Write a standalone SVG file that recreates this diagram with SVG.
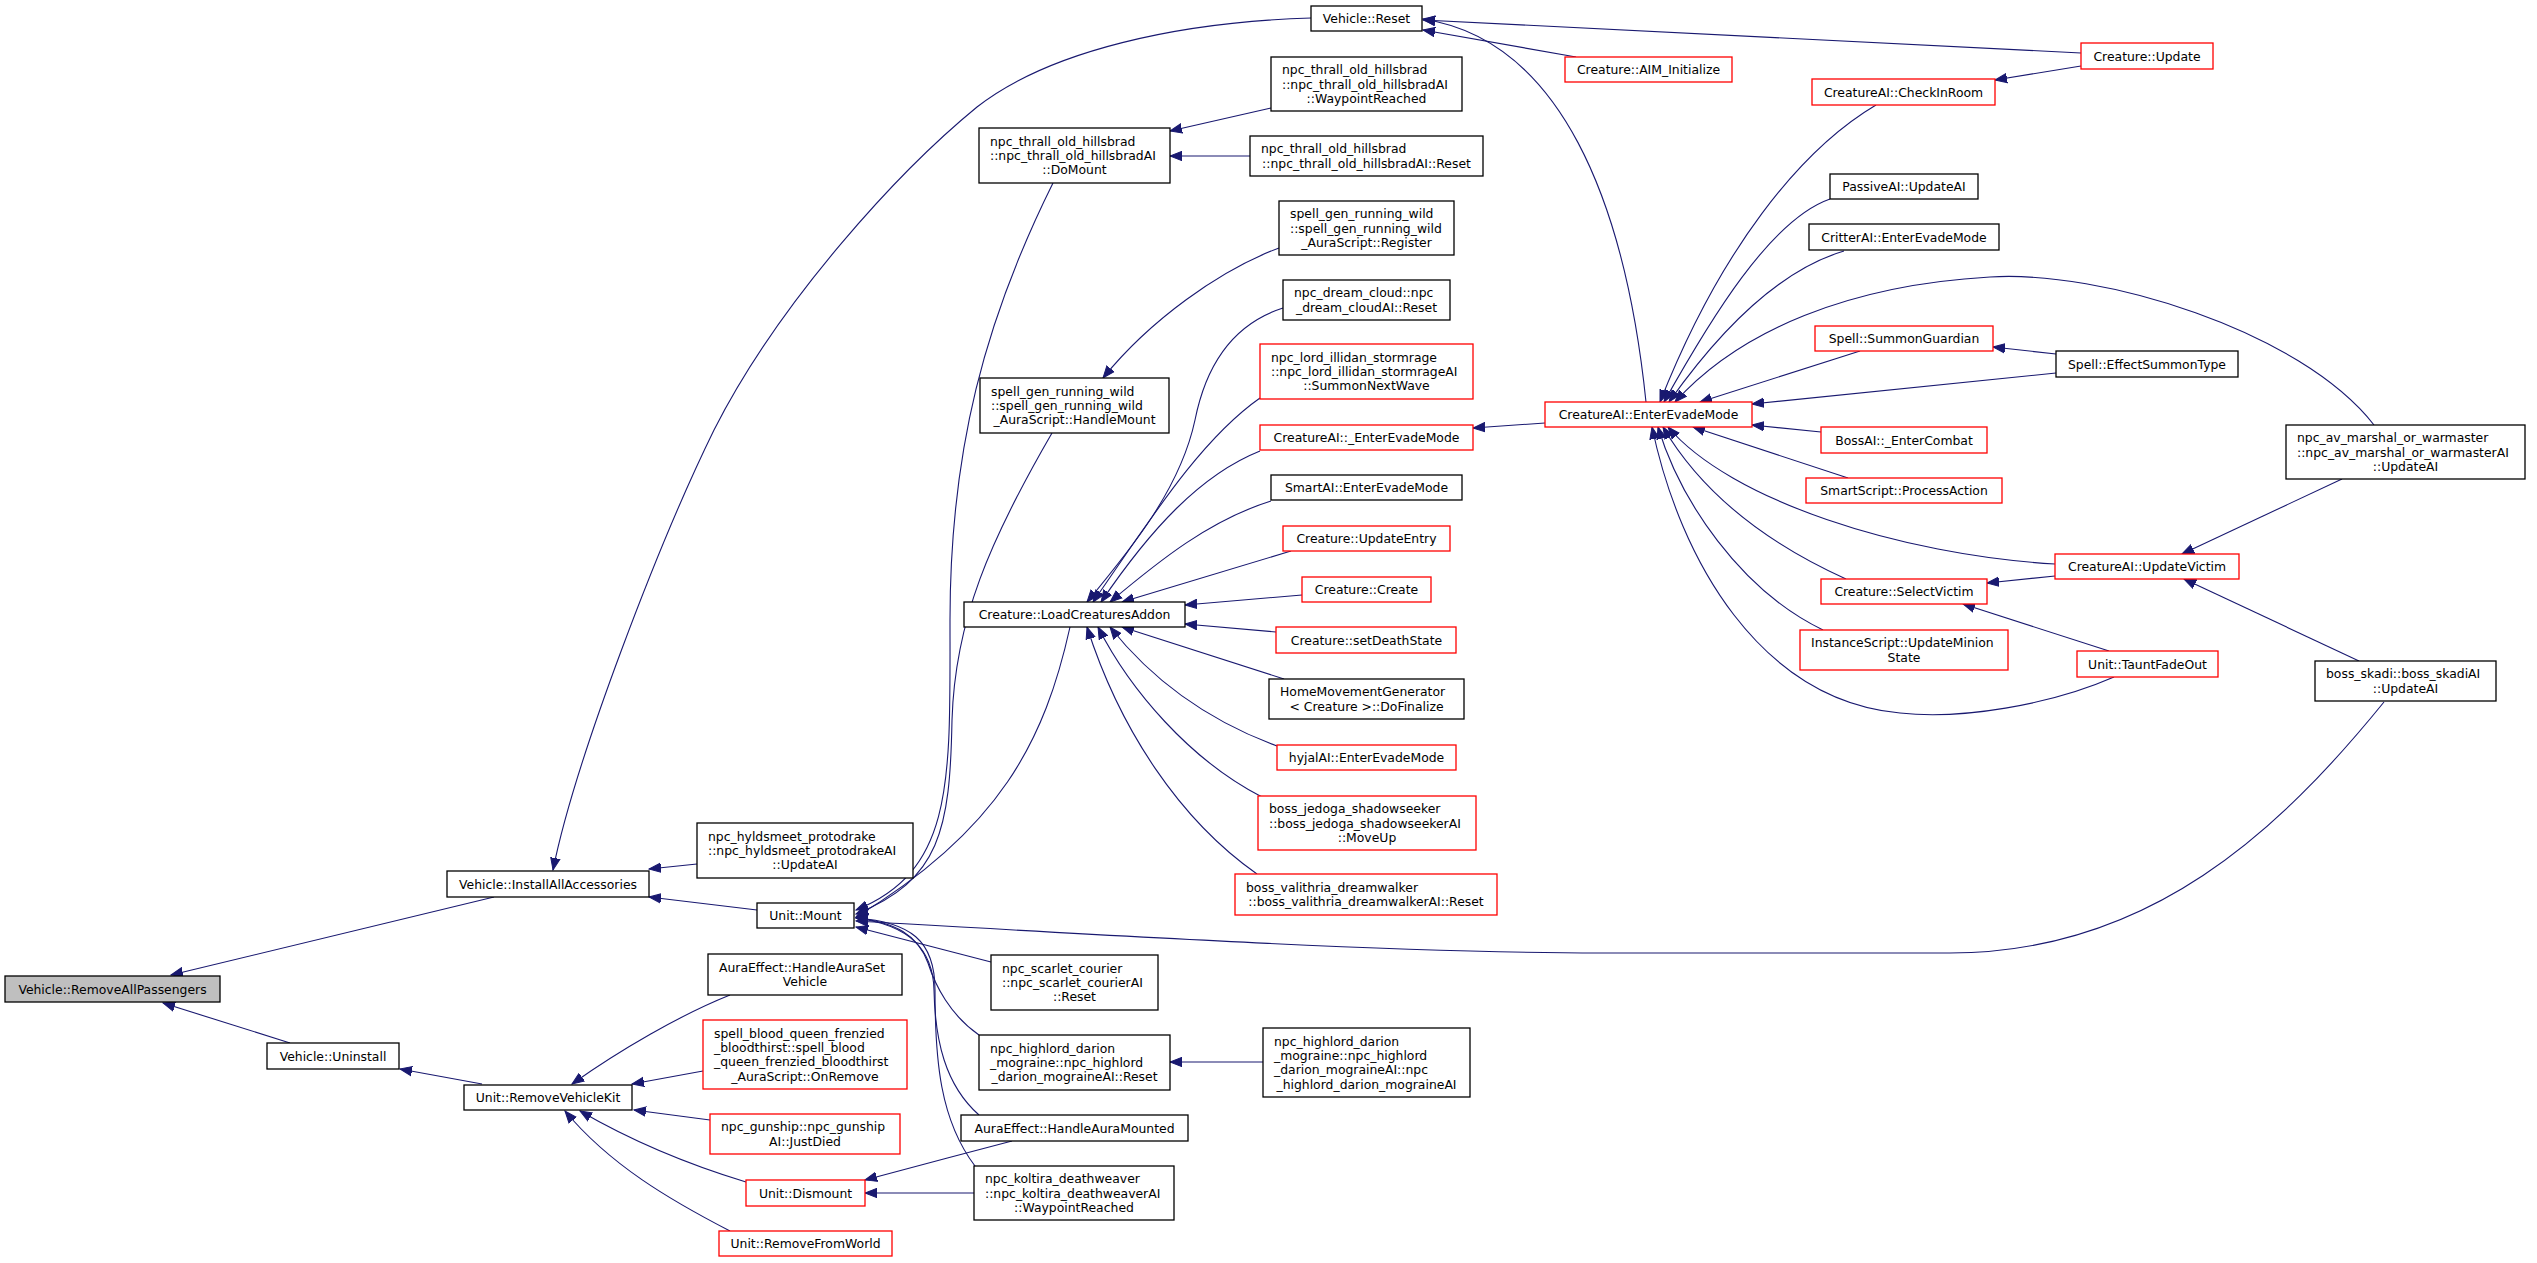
<svg xmlns="http://www.w3.org/2000/svg" width="2537" height="1263" viewBox="0 0 2537 1263">
<style>
.n rect{fill:#fff;stroke:#000;stroke-width:1.3}
.r rect{stroke:#ff0000}
.g rect{fill:#bfbfbf}
text{font-family:"DejaVu Sans",sans-serif;font-size:12.4px;fill:#000}
.c{text-anchor:middle}
.e path{fill:none;stroke:#191970;stroke-width:1.1;marker-end:url(#a)}
</style>
<defs>
<marker id="a" markerUnits="userSpaceOnUse" markerWidth="13" markerHeight="11" refX="12" refY="5.5" orient="auto" viewBox="0 0 13 11">
<path d="M0,0.8 L12,5.5 L0,10.2 z" fill="#191970" stroke="#191970" stroke-width="1"/>
</marker>
</defs>
<rect width="2537" height="1263" fill="#fff"/>
<g class="e" id="edges">
<path d="M494,897 L171,975"/>
<path d="M290,1043 L163,1003"/>
<path d="M1311,18 C1180,22 1050,50 977,107 C900,170 780,300 714,430 C660,540 575,760 553,870"/>
<path d="M697,864 L649,869"/>
<path d="M757,910 L649,897"/>
<path d="M482,1084 L400,1069"/>
<path d="M730,995 C680,1015 620,1050 572,1084"/>
<path d="M703,1071 L632,1084"/>
<path d="M710,1120 L634,1110"/>
<path d="M746,1182 C690,1165 630,1140 580,1111"/>
<path d="M730,1231 C670,1200 610,1165 565,1111"/>
<path d="M1646,402 C1625,200 1560,40 1423,19"/>
<path d="M2081,53 L1423,20"/>
<path d="M1576,57 L1423,30"/>
<path d="M1053,183 C985,320 950,450 950,620 C950,780 955,870 856,910"/>
<path d="M1052,433 C990,540 955,620 952,720 C950,830 940,880 856,914"/>
<path d="M1070,627 C1045,740 1000,830 856,917"/>
<path d="M2384,702 C2280,830 2150,953 1950,953 L1600,953 C1400,953 1100,935 856,921"/>
<path d="M991,962 L856,927"/>
<path d="M979,1035 C950,1015 935,985 928,963 C918,935 895,922 856,918"/>
<path d="M979,1115 C945,1085 935,1040 934,990 C933,950 910,925 856,918"/>
<path d="M975,1166 C940,1120 935,1060 935,990 C935,940 910,922 856,918"/>
<path d="M1271,108 L1170,131"/>
<path d="M1250,156 L1170,156"/>
<path d="M1279,248 C1220,270 1150,320 1103,378"/>
<path d="M1283,308 C1230,325 1205,370 1195,420 C1180,490 1130,550 1087,602"/>
<path d="M1260,398 C1200,440 1150,520 1093,602"/>
<path d="M1260,451 C1200,475 1150,530 1101,602"/>
<path d="M1271,501 C1210,520 1160,560 1110,602"/>
<path d="M1291,551 L1122,602"/>
<path d="M1302,595 L1185,605"/>
<path d="M1276,632 L1185,624"/>
<path d="M1284,679 L1122,627"/>
<path d="M1277,746 C1220,725 1160,690 1110,627"/>
<path d="M1262,797 C1190,760 1130,690 1098,627"/>
<path d="M1257,874 C1180,820 1120,730 1087,627"/>
<path d="M1545,423 L1473,428"/>
<path d="M1876,105 C1800,150 1720,250 1660,402"/>
<path d="M1830,199 C1770,220 1710,320 1664,402"/>
<path d="M1844,251 C1780,270 1720,330 1669,402"/>
<path d="M2374,425 C2300,330 2100,270 1990,277 C1850,285 1740,330 1675,402"/>
<path d="M1860,351 L1700,402"/>
<path d="M2056,373 L1752,404"/>
<path d="M1821,432 L1752,425"/>
<path d="M1848,478 L1693,427"/>
<path d="M2055,564 C1900,555 1730,500 1668,427"/>
<path d="M1846,579 C1760,540 1700,490 1663,427"/>
<path d="M1823,630 C1740,590 1680,500 1658,427"/>
<path d="M2114,677 C2050,705 1960,720 1900,713 C1760,700 1680,560 1652,427"/>
<path d="M2081,66 L1995,80"/>
<path d="M2056,354 L1993,347"/>
<path d="M2342,479 L2182,554"/>
<path d="M2359,661 L2184,579"/>
<path d="M2055,576 L1987,583"/>
<path d="M2109,651 L1963,604"/>
<path d="M1012,1141 C960,1155 920,1165 865,1180"/>
<path d="M974,1193 L865,1193"/>
<path d="M1263,1062 L1170,1062"/>
</g>
<g class="n g" id="n1"><rect x="5" y="976" width="215" height="26"/><text class="c" x="112.5" y="993.5">Vehicle::RemoveAllPassengers</text></g>
<g class="n" id="n2"><rect x="447" y="871" width="202" height="26"/><text class="c" x="548" y="888.5">Vehicle::InstallAllAccessories</text></g>
<g class="n" id="n3"><rect x="267" y="1043" width="132" height="26"/><text class="c" x="333" y="1060.5">Vehicle::Uninstall</text></g>
<g class="n" id="n4"><rect x="464" y="1085" width="168" height="25"/><text class="c" x="548" y="1102">Unit::RemoveVehicleKit</text></g>
<g class="n" id="n5"><rect x="1311" y="6" width="111" height="25"/><text class="c" x="1366.5" y="23">Vehicle::Reset</text></g>
<g class="n" id="n6"><rect x="697" y="823" width="216" height="55"/><text x="708" y="840.7">npc_hyldsmeet_protodrake</text><text x="708" y="855">::npc_hyldsmeet_protodrakeAI</text><text class="c" x="805" y="869.3">::UpdateAI</text></g>
<g class="n" id="n7"><rect x="757" y="903" width="97" height="25"/><text class="c" x="805.5" y="920">Unit::Mount</text></g>
<g class="n" id="n8"><rect x="708" y="954" width="194" height="41"/><text x="719" y="971.9">AuraEffect::HandleAuraSet</text><text class="c" x="805" y="986.2">Vehicle</text></g>
<g class="n r" id="n9"><rect x="703" y="1020" width="204" height="69"/><text x="714" y="1037.6">spell_blood_queen_frenzied</text><text x="714" y="1051.9">_bloodthirst::spell_blood</text><text x="714" y="1066.2">_queen_frenzied_bloodthirst</text><text class="c" x="805" y="1080.5">_AuraScript::OnRemove</text></g>
<g class="n r" id="n10"><rect x="710" y="1114" width="190" height="40"/><text x="721" y="1131.4">npc_gunship::npc_gunship</text><text class="c" x="805" y="1145.7">AI::JustDied</text></g>
<g class="n r" id="n11"><rect x="746" y="1180" width="119" height="26"/><text class="c" x="805.5" y="1197.5">Unit::Dismount</text></g>
<g class="n r" id="n12"><rect x="719" y="1231" width="173" height="25"/><text class="c" x="805.5" y="1248">Unit::RemoveFromWorld</text></g>
<g class="n" id="n13"><rect x="979" y="128" width="191" height="55"/><text x="990" y="145.7">npc_thrall_old_hillsbrad</text><text x="990" y="160">::npc_thrall_old_hillsbradAI</text><text class="c" x="1074.5" y="174.3">::DoMount</text></g>
<g class="n" id="n14"><rect x="980" y="378" width="189" height="55"/><text x="991" y="395.7">spell_gen_running_wild</text><text x="991" y="410">::spell_gen_running_wild</text><text class="c" x="1074.5" y="424.3">_AuraScript::HandleMount</text></g>
<g class="n" id="n15"><rect x="964" y="602" width="221" height="25"/><text class="c" x="1074.5" y="619">Creature::LoadCreaturesAddon</text></g>
<g class="n" id="n16"><rect x="991" y="955" width="167" height="55"/><text x="1002" y="972.7">npc_scarlet_courier</text><text x="1002" y="987">::npc_scarlet_courierAI</text><text class="c" x="1074.5" y="1001.3">::Reset</text></g>
<g class="n" id="n17"><rect x="979" y="1035" width="191" height="55"/><text x="990" y="1052.7">npc_highlord_darion</text><text x="990" y="1067">_mograine::npc_highlord</text><text class="c" x="1074.5" y="1081.3">_darion_mograineAI::Reset</text></g>
<g class="n" id="n18"><rect x="961" y="1115" width="227" height="26"/><text class="c" x="1074.5" y="1132.5">AuraEffect::HandleAuraMounted</text></g>
<g class="n" id="n19"><rect x="974" y="1166" width="200" height="54"/><text x="985" y="1183.2">npc_koltira_deathweaver</text><text x="985" y="1197.5">::npc_koltira_deathweaverAI</text><text class="c" x="1074" y="1211.8">::WaypointReached</text></g>
<g class="n" id="n20"><rect x="1271" y="57" width="191" height="54"/><text x="1282" y="74.2">npc_thrall_old_hillsbrad</text><text x="1282" y="88.5">::npc_thrall_old_hillsbradAI</text><text class="c" x="1366.5" y="102.8">::WaypointReached</text></g>
<g class="n" id="n21"><rect x="1250" y="136" width="233" height="40"/><text x="1261" y="153.4">npc_thrall_old_hillsbrad</text><text class="c" x="1366.5" y="167.7">::npc_thrall_old_hillsbradAI::Reset</text></g>
<g class="n" id="n22"><rect x="1279" y="201" width="175" height="54"/><text x="1290" y="218.2">spell_gen_running_wild</text><text x="1290" y="232.5">::spell_gen_running_wild</text><text class="c" x="1366.5" y="246.8">_AuraScript::Register</text></g>
<g class="n" id="n23"><rect x="1283" y="280" width="167" height="40"/><text x="1294" y="297.4">npc_dream_cloud::npc</text><text class="c" x="1366.5" y="311.7">_dream_cloudAI::Reset</text></g>
<g class="n r" id="n24"><rect x="1260" y="344" width="213" height="55"/><text x="1271" y="361.7">npc_lord_illidan_stormrage</text><text x="1271" y="376">::npc_lord_illidan_stormrageAI</text><text class="c" x="1366.5" y="390.3">::SummonNextWave</text></g>
<g class="n r" id="n25"><rect x="1260" y="425" width="213" height="25"/><text class="c" x="1366.5" y="442">CreatureAI::_EnterEvadeMode</text></g>
<g class="n" id="n26"><rect x="1271" y="475" width="191" height="25"/><text class="c" x="1366.5" y="492">SmartAI::EnterEvadeMode</text></g>
<g class="n r" id="n27"><rect x="1283" y="526" width="167" height="25"/><text class="c" x="1366.5" y="543">Creature::UpdateEntry</text></g>
<g class="n r" id="n28"><rect x="1302" y="577" width="129" height="25"/><text class="c" x="1366.5" y="594">Creature::Create</text></g>
<g class="n r" id="n29"><rect x="1276" y="627" width="180" height="26"/><text class="c" x="1366.5" y="644.5">Creature::setDeathState</text></g>
<g class="n" id="n30"><rect x="1269" y="679" width="195" height="40"/><text x="1280" y="696.4">HomeMovementGenerator</text><text class="c" x="1366.5" y="710.7">&lt; Creature &gt;::DoFinalize</text></g>
<g class="n r" id="n31"><rect x="1277" y="745" width="179" height="25"/><text class="c" x="1366.5" y="762">hyjalAI::EnterEvadeMode</text></g>
<g class="n r" id="n32"><rect x="1258" y="796" width="218" height="54"/><text x="1269" y="813.2">boss_jedoga_shadowseeker</text><text x="1269" y="827.5">::boss_jedoga_shadowseekerAI</text><text class="c" x="1367" y="841.8">::MoveUp</text></g>
<g class="n r" id="n33"><rect x="1235" y="874" width="262" height="41"/><text x="1246" y="891.9">boss_valithria_dreamwalker</text><text class="c" x="1366" y="906.2">::boss_valithria_dreamwalkerAI::Reset</text></g>
<g class="n" id="n34"><rect x="1263" y="1028" width="207" height="69"/><text x="1274" y="1045.6">npc_highlord_darion</text><text x="1274" y="1059.9">_mograine::npc_highlord</text><text x="1274" y="1074.2">_darion_mograineAI::npc</text><text class="c" x="1366.5" y="1088.5">_highlord_darion_mograineAI</text></g>
<g class="n r" id="n35"><rect x="1565" y="57" width="167" height="25"/><text class="c" x="1648.5" y="74">Creature::AIM_Initialize</text></g>
<g class="n r" id="n36"><rect x="1545" y="402" width="207" height="25"/><text class="c" x="1648.5" y="419">CreatureAI::EnterEvadeMode</text></g>
<g class="n r" id="n37"><rect x="1812" y="79" width="183" height="26"/><text class="c" x="1903.5" y="96.5">CreatureAI::CheckInRoom</text></g>
<g class="n" id="n38"><rect x="1830" y="174" width="148" height="25"/><text class="c" x="1904" y="191">PassiveAI::UpdateAI</text></g>
<g class="n" id="n39"><rect x="1809" y="224" width="190" height="26"/><text class="c" x="1904" y="241.5">CritterAI::EnterEvadeMode</text></g>
<g class="n r" id="n40"><rect x="1815" y="326" width="178" height="25"/><text class="c" x="1904" y="343">Spell::SummonGuardian</text></g>
<g class="n r" id="n41"><rect x="1821" y="427" width="166" height="26"/><text class="c" x="1904" y="444.5">BossAI::_EnterCombat</text></g>
<g class="n r" id="n42"><rect x="1806" y="478" width="196" height="25"/><text class="c" x="1904" y="495">SmartScript::ProcessAction</text></g>
<g class="n r" id="n43"><rect x="1821" y="579" width="166" height="25"/><text class="c" x="1904" y="596">Creature::SelectVictim</text></g>
<g class="n r" id="n44"><rect x="1800" y="630" width="208" height="40"/><text x="1811" y="647.4">InstanceScript::UpdateMinion</text><text class="c" x="1904" y="661.7">State</text></g>
<g class="n r" id="n45"><rect x="2081" y="43" width="132" height="26"/><text class="c" x="2147" y="60.5">Creature::Update</text></g>
<g class="n" id="n46"><rect x="2056" y="351" width="182" height="26"/><text class="c" x="2147" y="368.5">Spell::EffectSummonType</text></g>
<g class="n r" id="n47"><rect x="2055" y="554" width="184" height="25"/><text class="c" x="2147" y="571">CreatureAI::UpdateVictim</text></g>
<g class="n r" id="n48"><rect x="2077" y="651" width="141" height="26"/><text class="c" x="2147.5" y="668.5">Unit::TauntFadeOut</text></g>
<g class="n" id="n49"><rect x="2286" y="425" width="239" height="54"/><text x="2297" y="442.2">npc_av_marshal_or_warmaster</text><text x="2297" y="456.5">::npc_av_marshal_or_warmasterAI</text><text class="c" x="2405.5" y="470.8">::UpdateAI</text></g>
<g class="n" id="n50"><rect x="2315" y="661" width="181" height="40"/><text x="2326" y="678.4">boss_skadi::boss_skadiAI</text><text class="c" x="2405.5" y="692.7">::UpdateAI</text></g>
</svg>
